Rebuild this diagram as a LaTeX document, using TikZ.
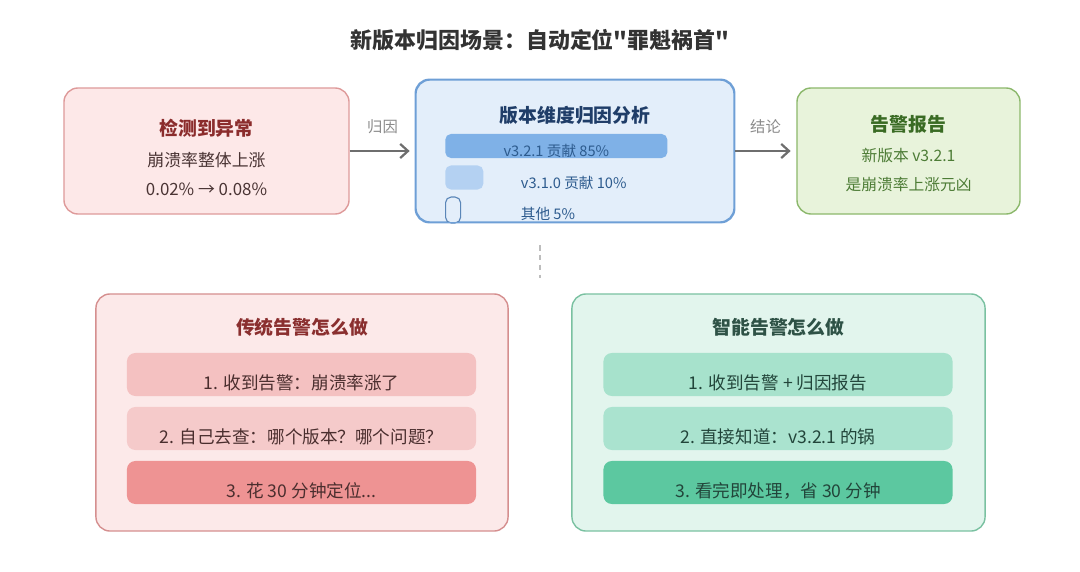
\documentclass[tikz,border=0pt]{standalone}
\usepackage{fontspec}
\newfontfamily\cjk{Noto Sans CJK SC}
\usepackage{tikz}
\usetikzlibrary{positioning,arrows.meta,calc}
\usepackage{xcolor}
\definecolor{inkcol}{HTML}{333333}
\definecolor{arrowcol}{HTML}{6E6E6E}
\definecolor{tagcol}{HTML}{8A8A8A}
\definecolor{dashcol}{HTML}{BDBDBD}
\definecolor{redbg}{HTML}{FDE8E8}
\definecolor{redline}{HTML}{DE9A9A}
\definecolor{redhead}{HTML}{8B2C2C}
\definecolor{redtext}{HTML}{4A3434}
\definecolor{bluebg}{HTML}{E3EEFA}
\definecolor{blueline}{HTML}{6E9FD6}
\definecolor{bluehead}{HTML}{1F3D68}
\definecolor{bluetext}{HTML}{2D5B8E}
\definecolor{barone}{HTML}{7FB1E7}
\definecolor{bartwo}{HTML}{B4D1F2}
\definecolor{barthree}{HTML}{5A86B8}
\definecolor{greenbg}{HTML}{E8F3DB}
\definecolor{greenline}{HTML}{8CB86C}
\definecolor{greenhead}{HTML}{3A6B24}
\definecolor{greentext}{HTML}{4D7C36}
\definecolor{oldbg}{HTML}{FCE9E9}
\definecolor{oldline}{HTML}{D58F8F}
\definecolor{oldhead}{HTML}{8A2F2F}
\definecolor{oldtext}{HTML}{4A2E2E}
\definecolor{oldrowa}{HTML}{F4C1C1}
\definecolor{oldrowb}{HTML}{F5CACA}
\definecolor{oldrowc}{HTML}{EE9393}
\definecolor{newbg}{HTML}{E2F5ED}
\definecolor{newline}{HTML}{7AC1A1}
\definecolor{newhead}{HTML}{2E5246}
\definecolor{newtext}{HTML}{22453A}
\definecolor{newrowa}{HTML}{A7E2CC}
\definecolor{newrowb}{HTML}{AAE3CF}
\definecolor{newrowc}{HTML}{5CC8A0}

\begin{document}
\begin{tikzpicture}[
    x=0.025cm, y=-0.025cm, font=\cjk,
    panel/.style={draw=#1line, fill=#1bg, rounded corners=10pt, line width=1pt},
    head/.style={font=\cjk\fontsize{13.4}{16}\selectfont\bfseries, color=#1},
    body/.style={font=\cjk\fontsize{12}{20.6}\selectfont, color=#1, align=center},
    bar/.style={fill=#1, rounded corners=4pt, inner sep=0pt, anchor=west, minimum height=0.6cm},
    bartext/.style={font=\cjk\fontsize{10.4}{12}\selectfont, color=bluetext, anchor=west},
    row/.style={fill=#1, rounded corners=6pt, inner sep=0pt, minimum width=8.725cm,
                minimum height=1.075cm, text height=21pt, text depth=0pt,
                font=\cjk\fontsize{12.5}{15}\selectfont},
    flow/.style={-{Straight Barb[length=5.5pt,width=10pt]}, line width=1.6pt, color=arrowcol,
                 shorten >=4pt},
    tag/.style={font=\cjk\fontsize{10.9}{13}\selectfont, color=tagcol, above=8pt},
]
\useasboundingbox (0,0) rectangle (1080,572);

% ---- Title ----
\node[font=\cjk\fontsize{15.6}{18}\selectfont\bfseries, color=inkcol] (title) at (540,40)
  {新版本归因场景：自动定位"罪魁祸首"};

% ---- Top row ----
\node[panel=red, minimum width=7.125cm, minimum height=3.15cm] (detect) at (206.5,151) {};
\node[head=redhead] (detecthead) at (206.5,128.5) {检测到异常};
\node[body=redtext] (detectbody) at (206.5,174) {崩溃率整体上涨\\0.02\% → 0.08\%};

\node[panel=blue, minimum width=7.95cm, minimum height=3.55cm] (attrib) at (575,151) {};
\node[head=bluehead] (attribhead) at (575,115) {版本维度归因分析};
\node[bar=barone, minimum width=5.55cm, text height=15pt, text depth=0pt,
      font=\cjk\fontsize{10.4}{12}\selectfont, text=bluetext] (barA) at (445,146) {v3.2.1 贡献 85\%};
\node[bar=bartwo, minimum width=0.95cm] (barB) at (445,177.5) {};
\node[bar=bluebg, draw=barthree, line width=0.8pt, minimum width=0.375cm,
      minimum height=0.65cm] (barC) at (445,210) {};
\node[bartext] (barBtext) at (516,182.5) {v3.1.0 贡献 10\%};
\node[bartext] (barCtext) at (516,214) {其他 5\%};
\draw[draw=blueline, line width=1pt, rounded corners=10pt]
  (attrib.south west) rectangle (attrib.north east);

\node[panel=green, minimum width=5.575cm, minimum height=3.15cm] (report) at (908.5,151) {};
\node[head=greenhead] (reporthead) at (908.5,124) {告警报告};
\node[body=greentext, font=\cjk\fontsize{11.2}{20.6}\selectfont] (reportbody) at (908.5,170)
  {新版本 v3.2.1\\是崩溃率上涨元凶};

% ---- Connectors ----
\draw[flow] (detect) -- (attrib) node[tag, midway] {归因};
\draw[flow] (attrib) -- (report) node[tag, midway] {结论};

\coordinate (gaptop) at (540,245);
\coordinate (gapbot) at (540,278);
\draw[dashcol, line width=1pt, dash pattern=on 4pt off 3pt] (gaptop) -- (gapbot);

% ---- Bottom row ----
\node[panel=old, minimum width=10.3cm, minimum height=5.925cm] (oldway) at (302,412.5) {};
\node[head=oldhead] (oldhead) at (302,327.5) {传统告警怎么做};
\node[row=oldrowa, text=oldtext] (oldA) at (301.5,374.5) {1. 收到告警：崩溃率涨了};
\node[row=oldrowb, text=oldtext] (oldB) at (301.5,428.5) {2. 自己去查：哪个版本？哪个问题？};
\node[row=oldrowc, text=oldtext] (oldC) at (301.5,482.5) {3. 花 30 分钟定位...};

\node[panel=new, minimum width=10.325cm, minimum height=5.925cm] (newway) at (778.5,412.5) {};
\node[head=newhead] (newhead) at (778.5,327.5) {智能告警怎么做};
\node[row=newrowa, text=newtext] (newA) at (778,374.5) {1. 收到告警 + 归因报告};
\node[row=newrowb, text=newtext] (newB) at (778,428.5) {2. 直接知道：v3.2.1 的锅};
\node[row=newrowc, text=newtext] (newC) at (778,482.5) {3. 看完即处理，省 30 分钟};

\end{tikzpicture}
\end{document}
